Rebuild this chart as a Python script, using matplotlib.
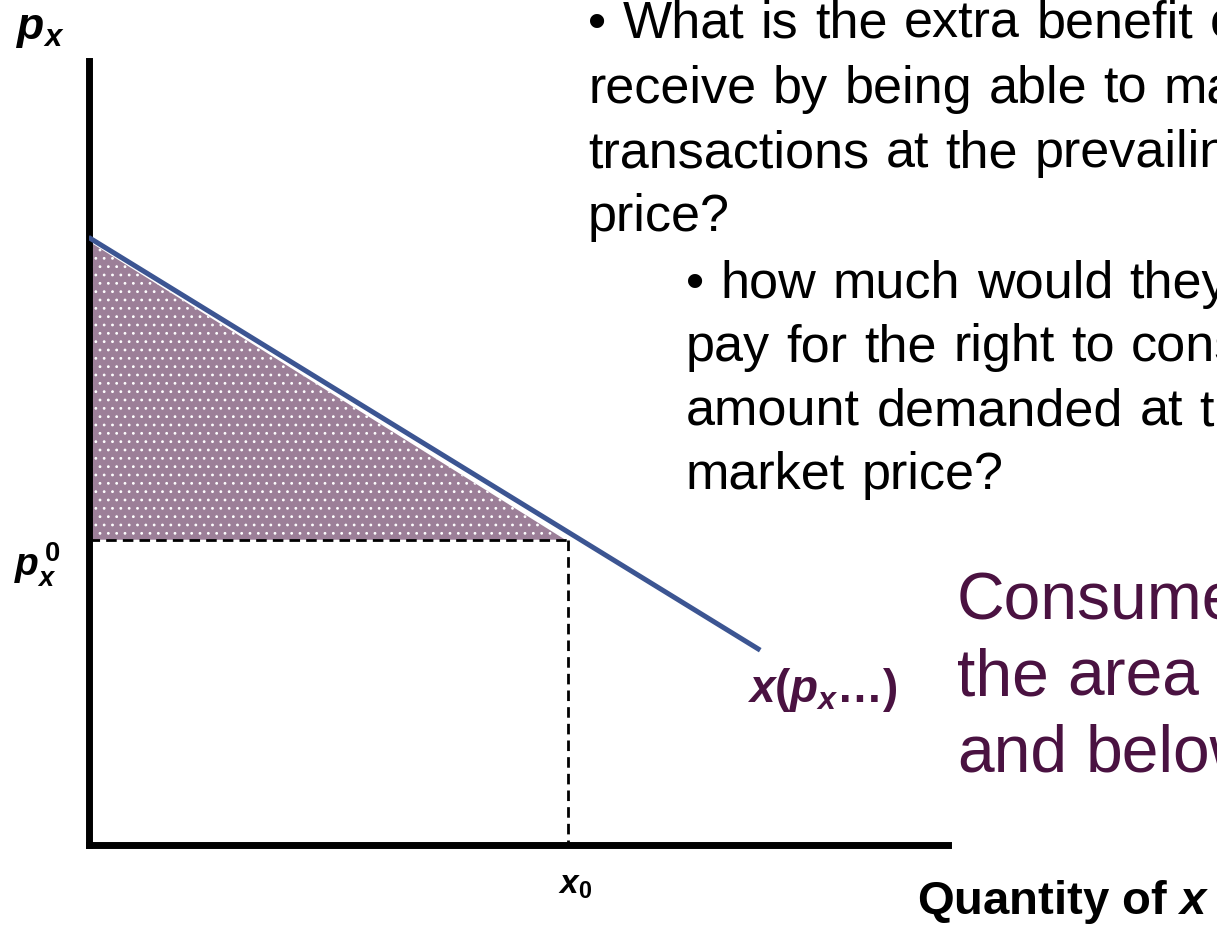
import matplotlib
matplotlib.use('Agg')
import matplotlib.pyplot as plt

plt.rcParams['font.family'] = ['Liberation Sans', 'DejaVu Sans']
plt.rcParams['mathtext.fontset'] = 'custom'
plt.rcParams['mathtext.it'] = 'Liberation Sans:italic:bold'
plt.rcParams['mathtext.rm'] = 'Liberation Sans:bold'
plt.rcParams['mathtext.bf'] = 'Liberation Sans:bold'
plt.rcParams['hatch.color'] = 'white'
plt.rcParams['hatch.linewidth'] = 0.8

# demand curve x(p_x...) and market point
demand_q = [0.0, 7.82]
demand_p = [7.75, 2.48]
x0 = 5.58
p0 = 3.89
# consumer surplus triangle (below demand, above p0)
surplus_q = [0.0, 0.0, 5.55]
surplus_p = [p0, 7.70, p0]

question_lines = [
    "\u2022 What is the extra benefit consumers",
    "receive by being able to make",
    "transactions at the prevailing market",
    "price?",
]
sub_lines = [
    "\u2022 how much would they be willing to",
    "pay for the right to consume the",
    "amount demanded at the prevailing",
    "market price?",
]
answer_lines = [
    "Consumer surplus is",
    "the area above price",
    "and below demand",
]

W, H = 1217, 926
fig = plt.figure(figsize=(W / 100, H / 100), dpi=100)
renderer = fig.canvas.get_renderer()


def spaced_text(x_px, base_px, line, size, color, extra_px):
    # slide-style text with slightly wider word gaps
    x = x_px
    space = 0.278 * size * 100 / 72
    for word in line.split(' '):
        t = fig.text(x / W, 1 - base_px / H, word, fontsize=size, color=color,
                     ha='left', va='baseline')
        x = t.get_window_extent(renderer).x1 + space + extra_px


ax = fig.add_axes([88.5 / W, (H - 844.5) / H, 859 / W, 783.5 / H])
ax.set_xlim(0, 10)
ax.set_ylim(0, 10)
for s in ['top', 'right']:
    ax.spines[s].set_visible(False)
for s in ['left', 'bottom']:
    ax.spines[s].set_linewidth(5)
    ax.spines[s].set_capstyle('projecting')
ax.set_xticks([])
ax.set_yticks([])
ax.patch.set_alpha(0)

# shaded consumer surplus
ax.fill(surplus_q, surplus_p, facecolor='#9c7f98', edgecolor='white',
        hatch='..', linewidth=0, zorder=1)

# dashed guides
ax.plot([0, x0], [p0, p0], color='black', lw=2, ls=(0, (3.8, 2.2)), zorder=2, clip_on=False)
ax.plot([x0, x0], [p0, 0], color='black', lw=2, ls=(0, (3.8, 2.2)), zorder=2, clip_on=False)

# demand line
ax.plot(demand_q, demand_p, color='#3c5592', lw=3.6, solid_capstyle='butt', zorder=3)

purple = '#4a1241'
ax.text(7.67, 1.82, "$x$($p_x$\u2026)", color=purple,
        fontsize=33, fontweight='bold', ha='left', va='baseline')

# axis labels
fig.text(16 / W, 1 - 30 / H, r"$p_x$", fontsize=32, ha='left', va='center')
ax.annotate(r"$p_x^{\,0}$", xy=(-0.087, p0), xycoords=ax.get_yaxis_transform(),
            xytext=(0, -18), textcoords='offset points', fontsize=28,
            ha='left', va='center')
ax.annotate(r"$x_{\mathit{0}}$", xy=(x0, -0.052), xycoords=ax.get_xaxis_transform(),
            xytext=(5, 0), textcoords='offset points',
            fontsize=24, ha='center', va='center')
fig.text(917 / W, 1 - 914 / H, r"Quantity of $x$", fontsize=34,
         fontweight='bold', ha='left', va='baseline')

# question text
for i, line in enumerate(question_lines):
    spaced_text(588, 38 + 64.5 * i, line, 37.5, 'black', 2)
for i, line in enumerate(sub_lines):
    spaced_text(686, 298 + 63.5 * i, line, 37.5, 'black', 2)
for i, line in enumerate(answer_lines):
    spaced_text(957, 620 + 76 * i, line, 47.5, purple, 0)

fig.savefig('out.png', dpi=100)
